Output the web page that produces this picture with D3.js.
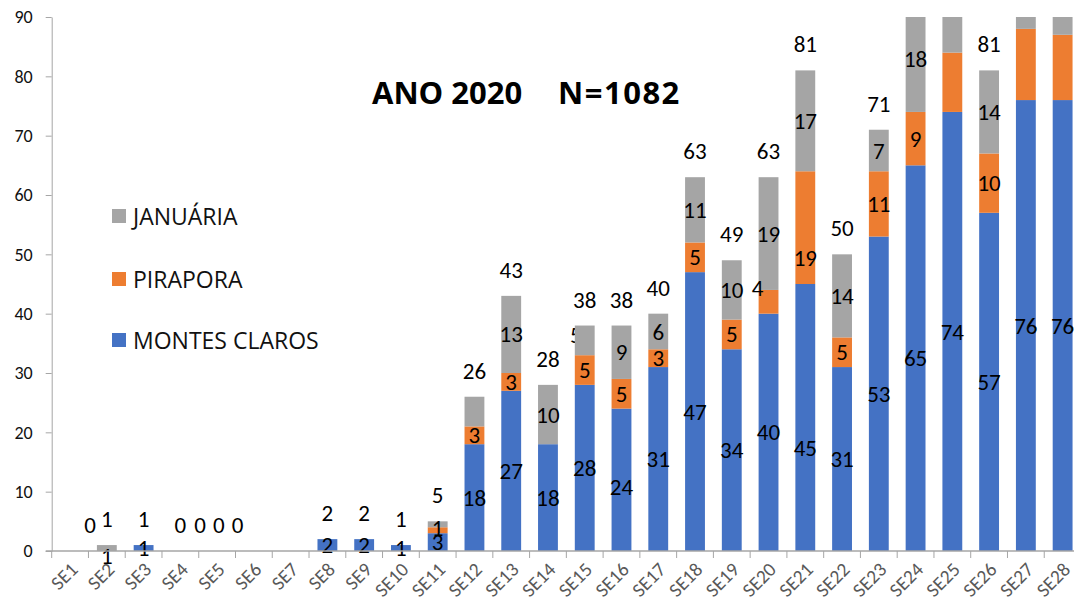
<!DOCTYPE html>
<html>
<head>
<meta charset="utf-8">
<script src="https://cdn.jsdelivr.net/npm/d3@7"></script>
<style>
  html, body { margin: 0; padding: 0; background: #fff; }
  svg { display: block; }
</style>
</head>
<body>
<svg id="chart" width="1074" height="603"></svg>
<script>
const categories = ["SE1","SE2","SE3","SE4","SE5","SE6","SE7","SE8","SE9","SE10","SE11","SE12","SE13","SE14","SE15","SE16","SE17","SE18","SE19","SE20","SE21","SE22","SE23","SE24","SE25","SE26","SE27","SE28"];
const montesClaros = [0,0,1,0,0,0,0,2,2,1,3,18,27,18,28,24,31,47,34,40,45,31,53,65,74,57,76,76];
const pirapora     = [0,0,0,0,0,0,0,0,0,0,1,3,3,0,5,5,3,5,5,4,19,5,11,9,10,10,12,11];
const januaria     = [0,1,0,0,0,0,0,0,0,0,1,5,13,10,5,9,6,11,10,19,17,14,7,18,16,14,16,16];
const seriesNames = ["MONTES CLAROS","PIRAPORA","JANUÁRIA"];
const yTicks = [0,10,20,30,40,50,60,70,80,90];
const titleLeft = "ANO 2020";
const titleRight = "N=1082";

(function(){
const colors = {"MONTES CLAROS":"#4472C4","PIRAPORA":"#ED7D31","JANUÁRIA":"#A5A5A5"};
const keyShort = {"MONTES CLAROS":"M","PIRAPORA":"P","JANUÁRIA":"J"};

const rows = categories.map((c,i)=>({cat:c,"MONTES CLAROS":montesClaros[i],"PIRAPORA":pirapora[i],"JANUÁRIA":januaria[i]}));
const stacked = d3.stack().keys(seriesNames)(rows);

// label presentation tweaks (as in the original chart)
const hidden = new Set(["SE11|J","SE12|J","SE25|P","SE25|J","SE27|P","SE27|J","SE28|P","SE28|J"]);
const nudge = {"SE1|T":[20,0],"SE5|T":[-17,0],"SE6|T":[-35,0],"SE7|T":[-53,0],
  "SE2|J":[0,8],"SE11|P":[0,-2],"SE20|P":[-11,-14],"SE21|P":[0,30],"SE21|M":[0,30],"SE16|M":[0,7],"SE15|J":[-9,-5]};
const underBar = new Set(["SE15|J"]);

const svg = d3.select("#chart");
const pLeft = 51.7, pRight = 1081, pTop = 17, pBottom = 551;

const x = d3.scaleBand().domain(categories).range([pLeft,pRight]).paddingInner(0.46).paddingOuter(0.23);
const y = d3.scaleLinear().domain([0,90]).range([pBottom,pTop]);
const yMax = y.domain()[1];

const labelFont = "Carlito, Lato, sans-serif";

svg.append("defs").append("clipPath").attr("id","plotclip")
  .append("rect").attr("x",0).attr("y",pTop).attr("width",1074).attr("height",pBottom-pTop);

const under = svg.append("g");
const bars = svg.append("g").attr("clip-path","url(#plotclip)");
const labels = svg.append("g");

stacked.forEach(s=>{
  bars.selectAll(null).data(s).enter().append("rect")
    .attr("x",d=>x(d.data.cat))
    .attr("width",x.bandwidth())
    .attr("y",d=>y(d[1]))
    .attr("height",d=>Math.max(0,y(d[0])-y(d[1])))
    .attr("fill",colors[s.key]);
  s.forEach(d=>{
    const v = d[1]-d[0];
    const k = d.data.cat+"|"+keyShort[s.key];
    if (v<=0 || hidden.has(k)) return;
    const n = nudge[k]||[0,0];
    const g = underBar.has(k)?under:labels;
    g.append("text")
      .attr("x",x(d.data.cat)+x.bandwidth()/2+n[0])
      .attr("y",y((d[0]+d[1])/2)+n[1])
      .attr("dy","0.35em")
      .attr("text-anchor","middle")
      .attr("font-family",labelFont).attr("font-size",23).attr("fill","#000")
      .text(v);
  });
});

// totals (those above the axis maximum fall outside the plot and are not shown)
rows.forEach(r=>{
  const t = r["MONTES CLAROS"]+r["PIRAPORA"]+r["JANUÁRIA"];
  if (t > yMax) return;
  const n = nudge[r.cat+"|T"]||[0,0];
  labels.append("text")
    .attr("x",x(r.cat)+x.bandwidth()/2+n[0])
    .attr("y",y(t)-26+n[1])
    .attr("dy","0.35em")
    .attr("text-anchor","middle")
    .attr("font-family",labelFont).attr("font-size",23).attr("fill","#000")
    .text(t);
});

// y axis
const yAxis = d3.axisLeft(y).tickValues(yTicks).tickSize(6).tickSizeOuter(0).tickPadding(13);
const gy = svg.append("g").attr("transform",`translate(${pLeft},0)`).call(yAxis);
gy.select(".domain").attr("stroke","#a6a6a6");
gy.selectAll(".tick line").attr("stroke","#a6a6a6");
gy.selectAll(".tick text").attr("font-family",labelFont).attr("font-size",18).attr("fill","#111");

// x axis
const gx = svg.append("g");
gx.append("line").attr("x1",pLeft-6).attr("x2",1074).attr("y1",pBottom).attr("y2",pBottom)
  .attr("stroke","#a6a6a6").attr("stroke-width",1.5);
const off = x.step()*x.paddingOuter();
gx.selectAll(null).data(categories).enter().append("line")
  .attr("x1",d=>x(d)-off).attr("x2",d=>x(d)-off)
  .attr("y1",pBottom).attr("y2",pBottom+7)
  .attr("stroke","#a6a6a6");
gx.selectAll(null).data(categories).enter().append("text")
  .attr("transform",d=>`translate(${x(d)+x.bandwidth()/2+4},${pBottom+15}) rotate(-45)`)
  .attr("text-anchor","end")
  .attr("dy","0.35em")
  .attr("font-family",labelFont).attr("font-size",19.5).attr("fill","#595959")
  .text(d=>d);

// title
svg.append("text").attr("x",372).attr("y",104).attr("font-family","'Open Sans', sans-serif")
  .attr("font-weight","bold").attr("font-size",31).attr("fill","#000").text(titleLeft);
svg.append("text").attr("x",558).attr("y",104).attr("font-family","'Open Sans', sans-serif")
  .attr("font-weight","bold").attr("font-size",31).attr("letter-spacing",1.5).attr("fill","#000").text(titleRight);

// legend
const legendItems = [["JANUÁRIA",209],["PIRAPORA",272],["MONTES CLAROS",333]];
const lg = svg.append("g");
legendItems.forEach(([name,ty])=>{
  lg.append("rect").attr("x",112).attr("y",ty).attr("width",14).attr("height",14).attr("fill",colors[name]);
  lg.append("text").attr("x",133).attr("y",ty+16).attr("font-family","'Open Sans', sans-serif")
    .attr("font-size",23).attr("fill","#111").text(name);
});
})();
</script>
</body>
</html>
